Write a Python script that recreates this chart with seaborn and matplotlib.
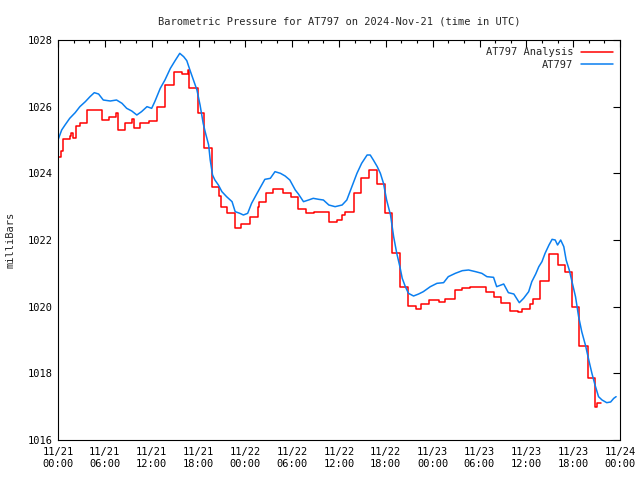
import pandas as pd
import matplotlib
matplotlib.use("Agg")
import matplotlib.pyplot as plt
import matplotlib.dates as mdates
import seaborn as sns

# Analysis (hourly steps): start hour of each step, value in mb
red_hours = [0, 0.4, 0.7, 1.5, 1.7, 1.9, 2.3, 2.8, 3.7, 5.6,
             6.5, 7.4, 7.7, 8.6, 9.5, 9.8, 10.5, 11.7, 12.65, 13.7,
             14.8, 15.9, 16.6, 16.8, 17.9, 18.7, 19.7, 20.6, 20.9, 21.7,
             22.7, 23.5, 24.6, 25.6, 25.8, 26.7, 27.5, 28.8, 29.8, 30.8,
             31.8, 32.8, 33.8, 34.7, 35.8, 36.4, 36.8, 37.9, 38.8, 39.8,
             40.9, 41.9, 42.8, 43.8, 44.8, 45.9, 46.5, 47.5, 48.8, 49.6,
             50.9, 51.8, 52.8, 53.8, 54.8, 55.8, 56.8, 57.9, 58.9, 59.4,
             60.5, 60.9, 61.8, 62.9, 64.1, 65.0, 65.9, 66.8, 67.9, 68.8,
             69.0, 69.6]
red_mb = [1024.5, 1024.67, 1025.02, 1025.13, 1025.2, 1025.07, 1025.42, 1025.52, 1025.9, 1025.6,
          1025.7, 1025.8, 1025.3, 1025.5, 1025.62, 1025.35, 1025.5, 1025.57, 1025.98, 1026.65,
          1027.03, 1026.97, 1027.1, 1026.57, 1025.8, 1024.75, 1023.6, 1023.32, 1022.98, 1022.8,
          1022.37, 1022.47, 1022.7, 1023.0, 1023.13, 1023.4, 1023.53, 1023.4, 1023.28, 1022.93,
          1022.8, 1022.83, 1022.85, 1022.53, 1022.6, 1022.75, 1022.85, 1023.42, 1023.85, 1024.1,
          1023.68, 1022.8, 1021.6, 1020.6, 1020.03, 1019.93, 1020.07, 1020.2, 1020.15, 1020.22,
          1020.5, 1020.55, 1020.6, 1020.58, 1020.45, 1020.28, 1020.12, 1019.88, 1019.85, 1019.92,
          1020.08, 1020.22, 1020.77, 1021.58, 1021.25, 1021.03, 1019.98, 1018.82, 1017.85, 1017.0,
          1017.1, 1017.1]

# Station observations
blue_hours = [0.0, 0.47, 0.9, 1.5, 2.2, 2.8, 3.5, 4.1, 4.65, 5.2,
              5.8, 6.7, 7.5, 8.2, 8.8, 9.45, 10.1, 10.7, 11.4, 12.0,
              12.4, 13.1, 13.7, 14.4, 15.0, 15.6, 16.1, 16.5, 16.9, 17.35,
              17.8, 18.2, 18.6, 18.85, 19.3, 19.5, 19.8, 20.1, 20.55, 21.0,
              21.6, 22.3, 22.7, 23.3, 23.75, 24.3, 24.8, 25.5, 26.1, 26.5,
              27.2, 27.8, 28.5, 29.1, 29.7, 30.4, 30.8, 31.45, 32.1, 32.7,
              33.4, 34.0, 34.7, 35.5, 36.4, 37.0, 37.65, 38.3, 38.9, 39.6,
              40.0, 40.4, 40.9, 41.3, 41.7, 42.1, 42.6, 43.0, 43.4, 43.8,
              44.1, 44.5, 44.9, 45.55, 46.2, 46.8, 47.7, 48.55, 49.4, 50.0,
              50.9, 51.8, 52.6, 53.5, 54.3, 54.95, 55.8, 56.2, 57.1, 57.7,
              58.4, 59.1, 59.65, 60.3, 60.7, 61.2, 61.6, 62.0, 62.4, 62.9,
              63.3, 63.7, 64.0, 64.4, 64.8, 65.1, 65.5, 65.9, 66.3, 66.7,
              67.1, 67.6, 68.0, 68.4, 68.8, 69.25, 69.7, 70.3, 70.8, 71.2,
              71.5]
blue_mb = [1025.0, 1025.3, 1025.45, 1025.65, 1025.82, 1026.0, 1026.15, 1026.3, 1026.42, 1026.38,
           1026.2, 1026.17, 1026.2, 1026.1, 1025.95, 1025.87, 1025.75, 1025.85, 1026.0, 1025.95,
           1026.15, 1026.55, 1026.8, 1027.15, 1027.38, 1027.6, 1027.5, 1027.38, 1027.1, 1026.8,
           1026.5, 1026.05, 1025.5, 1025.25, 1024.85, 1024.4, 1023.95, 1023.8, 1023.65, 1023.45,
           1023.3, 1023.15, 1022.85, 1022.8, 1022.75, 1022.8, 1023.1, 1023.4, 1023.65, 1023.82,
           1023.85, 1024.05, 1024.0, 1023.92, 1023.8, 1023.5, 1023.38, 1023.15, 1023.2, 1023.25,
           1023.22, 1023.2, 1023.05, 1023.0, 1023.05, 1023.2, 1023.6, 1024.0, 1024.3, 1024.55,
           1024.55, 1024.4, 1024.2, 1024.0, 1023.7, 1023.2, 1022.75, 1022.1, 1021.6, 1021.2,
           1020.85, 1020.6, 1020.4, 1020.32, 1020.38, 1020.45, 1020.6, 1020.7, 1020.72, 1020.9,
           1021.0, 1021.08, 1021.1, 1021.05, 1021.0, 1020.9, 1020.88, 1020.6, 1020.68, 1020.42,
           1020.38, 1020.12, 1020.25, 1020.45, 1020.75, 1020.98, 1021.2, 1021.35, 1021.6, 1021.85,
           1022.02, 1022.0, 1021.85, 1022.0, 1021.8, 1021.4, 1021.1, 1020.7, 1020.3, 1019.7,
           1019.25, 1018.82, 1018.4, 1018.0, 1017.65, 1017.3, 1017.2, 1017.12, 1017.14, 1017.25,
           1017.3]

base = pd.Timestamp("2024-11-21 00:00")
df_red = pd.DataFrame({"time": base + pd.to_timedelta(red_hours, unit="h"), "mb": red_mb})
df_blue = pd.DataFrame({"time": base + pd.to_timedelta(blue_hours, unit="h"), "mb": blue_mb})

sns.set_style("white")
plt.rcParams["font.family"] = ["DejaVu Sans Mono"]
plt.rcParams["font.size"] = 7.5

fig = plt.figure(figsize=(6.4, 4.8), dpi=100)
ax = fig.add_axes([58 / 640, 40 / 480, 562 / 640, 400 / 480])

sns.lineplot(data=df_red, x="time", y="mb", ax=ax, color="#ff0000", linewidth=1.1,
             drawstyle="steps-post", label="AT797 Analysis")
sns.lineplot(data=df_blue, x="time", y="mb", ax=ax, color="#0a7ff0", linewidth=1.1,
             label="AT797")

ax.set_xlim(base, base + pd.Timedelta(hours=72))
ax.set_ylim(1016, 1028)
ax.set_yticks(range(1016, 1029, 2))
ax.xaxis.set_major_locator(mdates.HourLocator(byhour=[0, 6, 12, 18]))
ax.xaxis.set_minor_locator(mdates.HourLocator(byhour=range(0, 24, 2)))
ax.xaxis.set_major_formatter(mdates.DateFormatter("%m/%d\n%H:%M"))

ax.tick_params(which="both", direction="in", top=True, right=True, colors="black",
               labelsize=7.5)
ax.tick_params(which="major", length=5, width=0.8)
ax.tick_params(which="minor", length=2.5, width=0.8)
ax.tick_params(axis="x", pad=5)
for s in ax.spines.values():
    s.set_color("black")
    s.set_linewidth(0.8)

ax.set_xlabel("")
ax.set_ylabel("milliBars", fontsize=7.5, labelpad=9)
ax.set_title("Barometric Pressure for AT797 on 2024-Nov-21 (time in UTC)",
             fontsize=7.5, pad=11)

ax.legend(loc="upper right", frameon=False, markerfirst=False, handlelength=3.0,
          fontsize=7.5, borderaxespad=0.3, labelspacing=0.25, handletextpad=0.8)

fig.savefig("out.png", dpi=100)
